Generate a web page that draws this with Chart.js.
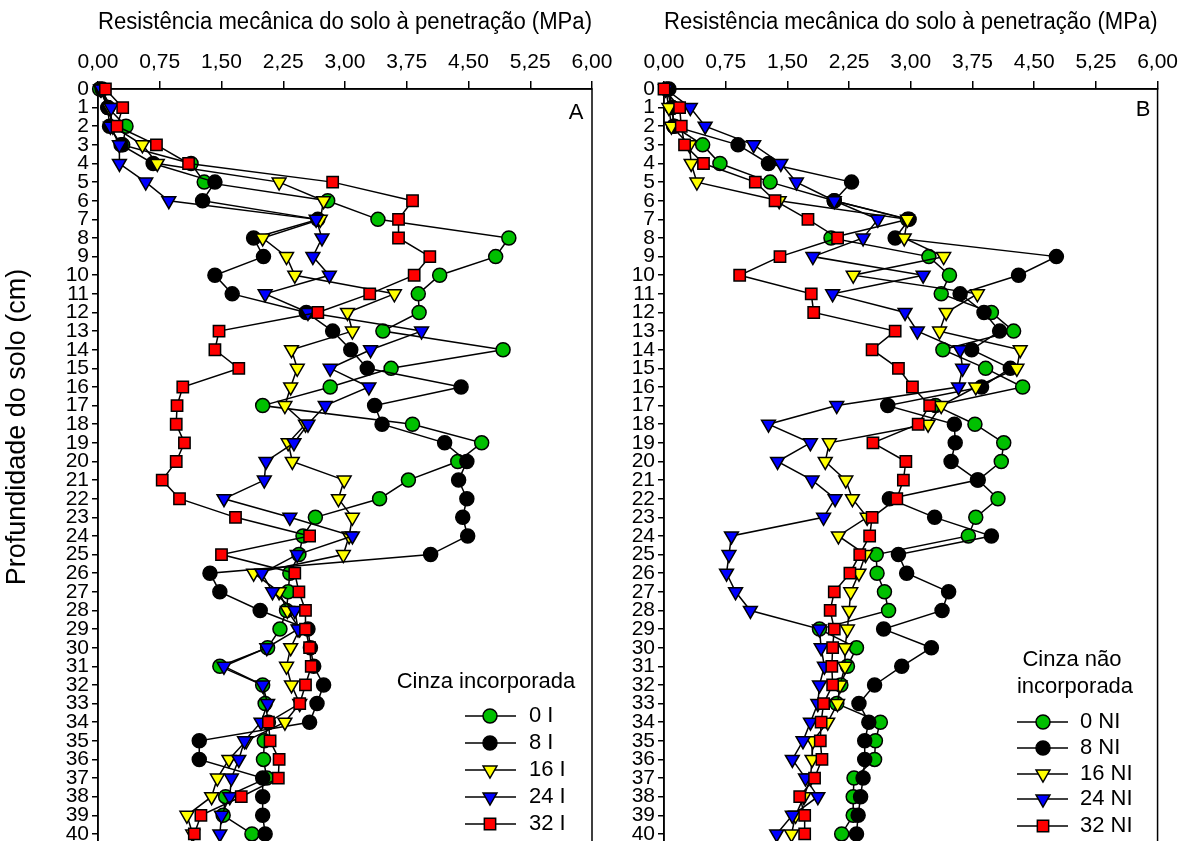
<!DOCTYPE html>
<html><head><meta charset="utf-8">
<script src="https://cdn.jsdelivr.net/npm/chart.js@4/dist/chart.umd.min.js"></script>
<style>
html,body{margin:0;padding:0;background:#fff;overflow:hidden}
#wrap{position:relative;width:1184px;height:841px;overflow:hidden;background:#fff}
#cA{position:absolute;left:0;top:0}
#cB{position:absolute;left:600px;top:0}
</style></head><body>
<div id="wrap"><canvas id="cA" width="624" height="857"></canvas><canvas id="cB" width="584" height="857"></canvas></div>
<script>
// ---- data ----
const depths = [0,1,2,3,4,5,6,7,8,9,10,11,12,13,14,15,16,17,18,19,20,21,22,23,24,25,26,27,28,29,30,31,32,33,34,35,36,37,38,39,40];
const xTicks = [0,0.75,1.5,2.25,3,3.75,4.5,5.25,6];

const namesA = ['0 I','8 I','16 I','24 I','32 I'];
const namesB = ['0 NI','8 NI','16 NI','24 NI','32 NI'];

const inc0  = [0.02,0.12,0.34,0.30,1.13,1.29,2.79,3.40,4.99,4.83,4.15,3.89,3.90,3.46,4.92,3.56,2.82,2.00,3.82,4.66,4.37,3.77,3.42,2.64,2.49,2.44,2.33,2.31,2.29,2.21,2.06,1.48,2.00,2.03,2.07,2.02,2.01,2.05,1.55,1.52,1.87];
const inc8  = [0.05,0.12,0.14,0.28,0.67,1.42,1.27,2.67,1.89,2.01,1.42,1.63,2.53,2.85,3.07,3.27,4.41,3.36,3.45,4.21,4.48,4.38,4.48,4.43,4.49,4.04,1.36,1.48,1.97,2.55,2.58,2.62,2.74,2.66,2.57,1.23,1.23,2.00,2.00,2.00,2.03];
const inc16 = [0.03,0.14,0.18,0.54,0.72,2.20,2.74,2.70,2.00,2.29,2.39,3.60,3.03,3.09,2.35,2.42,2.34,2.27,2.52,2.31,2.36,2.99,2.92,3.09,3.05,2.98,1.89,2.20,2.30,2.45,2.34,2.29,2.35,2.45,2.27,1.80,1.59,1.45,1.38,1.08,1.15];
const inc24 = [0.04,0.16,0.15,0.26,0.26,0.58,0.86,2.65,2.72,2.61,2.81,2.03,2.55,3.93,3.31,2.82,3.29,2.76,2.55,2.38,2.04,2.02,1.53,2.33,3.09,2.42,1.99,2.12,2.39,2.43,2.05,1.53,2.00,2.06,1.98,1.78,1.71,1.62,1.60,1.50,1.48];
const inc32 = [0.09,0.30,0.23,0.71,1.10,2.85,3.82,3.65,3.65,4.03,3.84,3.30,2.67,1.47,1.42,1.71,1.03,0.96,0.95,1.05,0.95,0.78,0.99,1.67,2.57,1.50,2.39,2.44,2.52,2.52,2.57,2.59,2.52,2.45,2.07,2.09,2.20,2.19,1.74,1.25,1.17];

const nao0  = [0.03,0.10,0.12,0.47,0.68,1.29,2.07,2.96,2.03,3.22,3.47,3.37,3.98,4.25,3.39,3.91,4.36,3.30,3.78,4.13,4.10,3.82,4.06,3.79,3.70,2.58,2.59,2.68,2.73,1.89,2.34,2.23,2.15,2.10,2.63,2.57,2.56,2.31,2.30,2.30,2.16];
const nao8  = [0.06,0.10,0.12,0.90,1.27,2.28,2.07,2.98,2.81,4.77,4.31,3.60,3.89,4.08,3.74,4.21,3.86,2.72,3.53,3.54,3.49,3.81,2.74,3.29,3.98,2.85,2.95,3.46,3.38,2.67,3.25,2.89,2.56,2.37,2.49,2.44,2.44,2.42,2.39,2.36,2.34];
const nao16 = [0.02,0.06,0.09,0.31,0.33,0.40,1.40,2.96,2.92,3.40,2.30,3.81,3.43,3.35,4.33,4.29,3.79,3.37,3.21,2.01,1.96,2.21,2.29,2.47,2.12,2.45,2.37,2.27,2.25,2.23,2.20,2.20,2.14,2.11,1.99,1.81,1.80,1.78,1.70,1.60,1.55];
const nao24 = [0.02,0.32,0.50,1.09,1.42,1.61,2.07,2.60,2.42,1.81,3.15,2.05,2.93,3.08,3.60,3.63,3.58,2.10,1.27,1.78,1.38,1.80,2.08,1.94,0.82,0.79,0.76,0.87,1.05,1.89,1.91,1.95,1.89,1.87,1.78,1.69,1.56,1.72,1.87,1.56,1.37];
const nao32 = [0.00,0.19,0.21,0.25,0.48,1.11,1.35,1.75,2.11,1.41,0.92,1.79,1.82,2.81,2.53,2.85,3.02,3.23,3.09,2.54,2.94,2.91,2.83,2.53,2.50,2.38,2.26,2.07,2.02,2.07,2.05,2.04,2.05,1.94,1.91,1.90,1.92,1.83,1.65,1.71,1.71];

// ---- styles ----
const FONT = '"Liberation Sans", Arial, sans-serif';
const fills = ['#00c000','#000000','#ffff00','#0000ff','#ff0000'];
const shapes = ['circle','circle','triangle','triangle','rect'];
const rots = [0,0,180,180,0];
const radii = [7,7,8,8,8];
const orders = [4,3,2,1,0];

function buildDatasets(series, names){
  return series.map((vals,i)=>({
    label: names[i],
    data: depths.map((d,j)=>({x: vals[j], y: d})),
    showLine: true,
    borderColor: '#000',
    borderWidth: 1.5,
    pointBackgroundColor: fills[i],
    pointBorderColor: '#000',
    pointBorderWidth: 1.5,
    pointStyle: shapes[i],
    pointRotation: rots[i],
    pointRadius: radii[i],
    order: orders[i],
    clip: false
  }));
}

const deco = {
  id: 'deco',
  beforeDatasetsDraw(chart, args, o){
    const a = chart.chartArea, c = chart.ctx;
    c.save(); c.strokeStyle = '#000'; c.lineWidth = 1.5;
    c.beginPath();
    c.moveTo(a.left, a.bottom + 5); c.lineTo(a.left, a.top); c.lineTo(a.right, a.top); c.lineTo(a.right, a.bottom + 5);
    c.stroke();
    c.restore();
  },
  afterDraw(chart, args, o){
    const c = chart.ctx;
    c.save();
    c.fillStyle = '#000';
    c.font = '22px ' + FONT;
    c.textBaseline = 'middle';
    c.textAlign = 'center';
    c.fillText(o.letter, o.letterX, o.letterY);
    o.legTitle.forEach((t)=>c.fillText(t.text, t.x, t.y));
    o.names.forEach((n,i)=>{
      const y = o.legY[i];
      c.strokeStyle = '#000'; c.lineWidth = 1.5;
      c.beginPath(); c.moveTo(o.lx0, y); c.lineTo(o.lx1, y); c.stroke();
      c.fillStyle = fills[i]; c.strokeStyle = '#000'; c.lineWidth = 1.5;
      Chart.helpers.drawPoint(c, {pointStyle: shapes[i], rotation: rots[i], radius: radii[i], borderWidth: 1.5}, o.mx, y);
      c.fillStyle = '#000';
      c.textAlign = 'left';
      c.fillText(n, o.tx, y);
    });
    if (o.yTitle){
      c.font = o.yTitle.size + 'px ' + FONT;
      c.translate(o.yTitle.x, o.yTitle.y);
      c.rotate(-Math.PI/2);
      c.textAlign = 'center';
      c.fillText(o.yTitle.text, 0, 0);
    }
    c.restore();
  }
};

function makeChart(id, series, names, yWidth, padRight, decoOpts){
  return new Chart(document.getElementById(id), {
    type: 'scatter',
    data: { datasets: buildDatasets(series, names) },
    options: {
      responsive: false,
      animation: false,
      events: [],
      layout: { padding: { left: 0, right: padRight, top: 0, bottom: 0 } },
      plugins: { legend: { display: false }, tooltip: { enabled: false }, deco: decoOpts },
      scales: {
        x: {
          type: 'linear', position: 'top', min: 0, max: 6,
          afterBuildTicks: (s) => { s.ticks = xTicks.map(v => ({ value: v })); },
          afterFit: (s) => { s.height = 89; },
          ticks: { callback: (v) => Number(v).toFixed(2).replace('.', ','), font: { family: FONT, size: 21 }, color: '#000', padding: 6, maxRotation: 0, autoSkip: false },
          grid: { drawOnChartArea: false, drawTicks: true, tickLength: 8, color: '#000', lineWidth: 1.5 },
          border: { display: true, color: '#000', width: 1.5 },
          title: { display: true, text: 'Resistência mecânica do solo à penetração (MPa)', font: { family: FONT, size: 23 }, color: '#000', padding: { top: 9, bottom: 0 } }
        },
        y: {
          type: 'linear', position: 'left', reverse: true, min: 0, max: 40.4,
          afterBuildTicks: (s) => { s.ticks = depths.map(v => ({ value: v })); },
          afterFit: (s) => { s.width = yWidth; },
          ticks: { font: { family: FONT, size: 21 }, color: '#000', padding: 3, autoSkip: false },
          grid: { drawOnChartArea: false, drawTicks: true, tickLength: 6, color: '#000', lineWidth: 1.5 },
          border: { display: true, color: '#000', width: 1.5 }
        }
      }
    },
    plugins: [deco]
  });
}

makeChart('cA', [inc0, inc8, inc16, inc24, inc32], namesA, 98, 32, {
  letter: 'A', letterX: 576, letterY: 113,
  legTitle: [{ text: 'Cinza incorporada', x: 486, y: 682 }],
  names: namesA, legY: [716, 743, 770, 797, 824],
  lx0: 465, lx1: 516, mx: 490, tx: 529,
  yTitle: { text: 'Profundidade do solo (cm)', x: 18, y: 427, size: 27 }
});
makeChart('cB', [nao0, nao8, nao16, nao24, nao32], namesB, 64, 24, {
  letter: 'B', letterX: 543, letterY: 110,
  legTitle: [{ text: 'Cinza não', x: 472, y: 660 }, { text: 'incorporada', x: 475, y: 687 }],
  names: namesB, legY: [722, 748, 774, 799, 826],
  lx0: 417, lx1: 468, mx: 443, tx: 480,
  yTitle: null
});
</script>
</body></html>
